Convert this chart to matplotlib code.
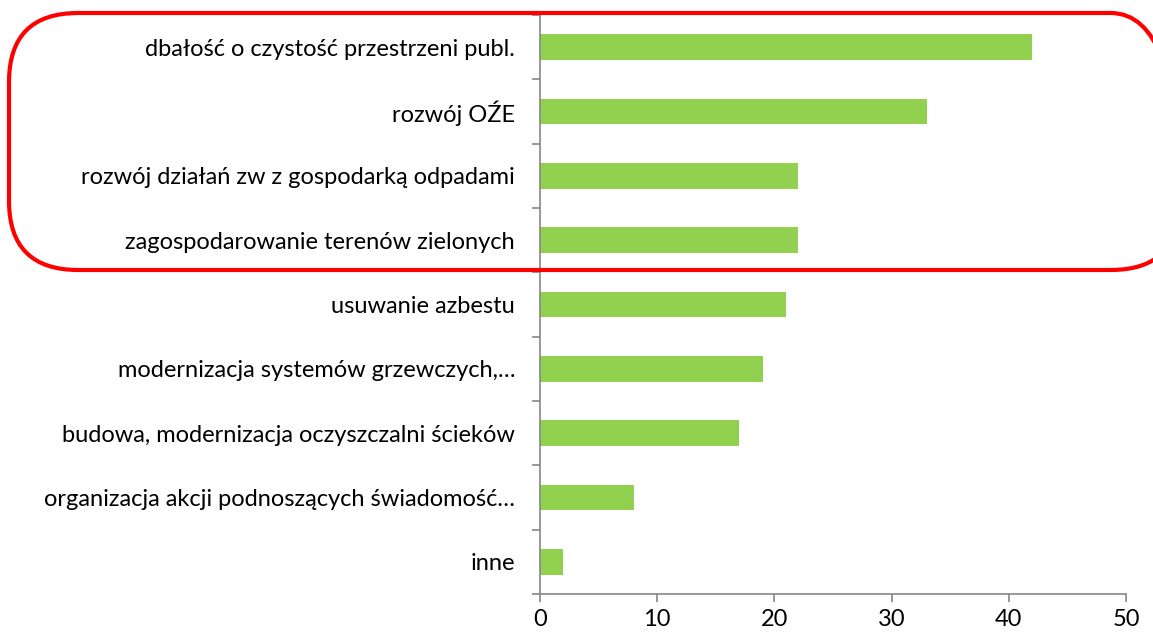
import matplotlib.pyplot as plt
from matplotlib.patches import FancyBboxPatch

# data
categories = [
    "dbałość o czystość przestrzeni publ.",
    "rozwój OŹE",
    "rozwój działań zw z gospodarką odpadami",
    "zagospodarowanie terenów zielonych",
    "usuwanie azbestu",
    "modernizacja systemów grzewczych,…",
    "budowa, modernizacja oczyszczalni ścieków",
    "organizacja akcji podnoszących świadomość…",
    "inne",
]
values = [42, 33, 22, 22, 21, 19, 17, 8, 2]
x_ticks = [0, 10, 20, 30, 40, 50]

plt.rcParams['font.family'] = ['Lato', 'DejaVu Sans']

W, H = 1153, 635
fig = plt.figure(figsize=(W / 100, H / 100), dpi=100)
ax = fig.add_axes([540 / W, 1 - 594 / H, (1126 - 540) / W, (594 - 15) / H])

n = len(categories)
pos = list(range(n))
ax.barh(pos, values, height=0.4, color='#92D050')
ax.set_ylim(n - 0.5, -0.5)
ax.set_xlim(0, 50)

ax.set_xticks(x_ticks)
ax.set_xticklabels([str(t) for t in x_ticks], fontsize=17)
ax.set_yticks(pos)
ax.set_yticklabels(categories, fontsize=17)
ax.tick_params(axis='y', length=0, pad=18)
ax.tick_params(axis='x', length=6, width=1.2, color='#868686', pad=5)

# category boundary ticks on the y axis
ax.set_yticks([i + 0.5 for i in range(-1, n)], minor=True)
ax.tick_params(axis='y', which='minor', length=6, width=1.2, color='#868686')

for s in ['top', 'right']:
    ax.spines[s].set_visible(False)
for s in ['left', 'bottom']:
    ax.spines[s].set_color('#868686')
    ax.spines[s].set_linewidth(1.2)

# red highlight frame around top four categories
box = FancyBboxPatch((9 / W, 1 - 270 / H), (1180 - 9) / W, (270 - 13) / H,
                     boxstyle="round,pad=0,rounding_size=0.06",
                     transform=fig.transFigure, fill=False,
                     edgecolor='#FF0000', linewidth=3, clip_on=False,
                     mutation_aspect=W / H)
fig.patches.append(box)

fig.savefig("out.png", dpi=100)
